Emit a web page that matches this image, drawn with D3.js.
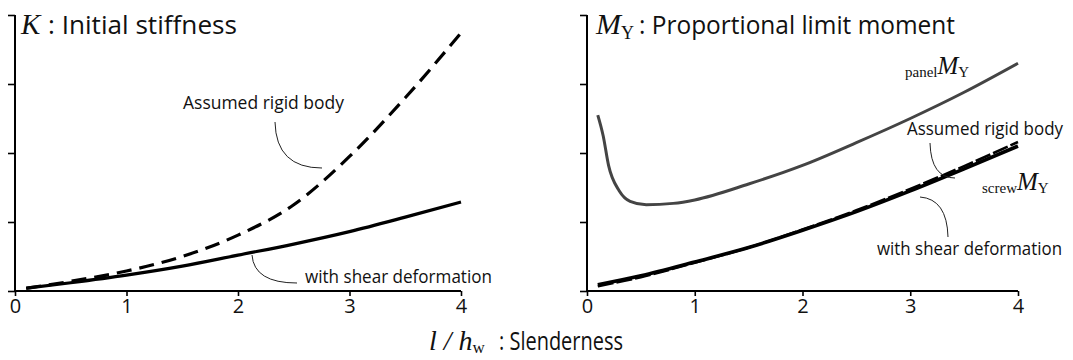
<!DOCTYPE html>
<html>
<head>
<meta charset="utf-8">
<script src="https://cdn.jsdelivr.net/npm/d3@7"></script>
<style>
  body { margin: 0; background: #fff; }
  text { font-family: "Open Sans", "Noto Sans", sans-serif; }
  .serif { font-family: "Liberation Serif", "DejaVu Serif", serif; }
</style>
</head>
<body>
<svg id="svg"></svg>
<script>
// slenderness l / hw
const xTicks = [0, 1, 2, 3, 4];
const yTicks = [0, 1, 2, 3, 4];

// K : initial stiffness (relative units)
const kRigidX = [0.1, 0.5, 1, 1.5, 2, 2.5, 3, 3.5, 4];
const kRigidY = [0.04, 0.14, 0.29, 0.5, 0.81, 1.25, 1.95, 2.8, 3.74];
const kShearX = [0.1, 0.5, 1, 1.5, 2, 2.5, 3, 3.5, 4];
const kShearY = [0.04, 0.12, 0.23, 0.36, 0.52, 0.68, 0.86, 1.07, 1.29];

// MY : proportional limit moment (relative units)
const panelX = [0.1, 0.15, 0.2, 0.3, 0.4, 0.55, 0.8, 1, 1.5, 2, 2.5, 3, 3.5, 4];
const panelY = [2.55, 2.25, 1.82, 1.45, 1.3, 1.25, 1.27, 1.32, 1.55, 1.82, 2.15, 2.5, 2.88, 3.3];
const screwRigidX = [0.1, 0.5, 1, 1.5, 2, 2.5, 3, 3.5, 4];
const screwRigidY = [0.07, 0.2, 0.41, 0.63, 0.89, 1.17, 1.48, 1.81, 2.16];
const screwShearX = [0.1, 0.5, 1, 1.5, 2, 2.5, 3, 3.5, 4];
const screwShearY = [0.09, 0.22, 0.42, 0.63, 0.88, 1.15, 1.45, 1.77, 2.1];

const zip = (xs, ys) => xs.map((x, i) => [x, ys[i]]);

let layout = {"width": 1073, "height": 360, "top": 15, "bottom": 291};

let svgElement = d3.select("#svg")
  .attr("width", layout.width)
  .attr("height", layout.height);

function panel(x0, x1) {
  let g = svgElement.append("g");
  let xScale = d3.scaleLinear().domain([0, 4]).range([x0, x1]);
  let yScale = d3.scaleLinear().domain([0, 4]).range([layout.bottom, layout.top]);

  let yAxis = g.append("g")
    .attr("transform", `translate(${x0}, 0)`)
    .call(d3.axisLeft(yScale).tickValues(yTicks).tickSize(7).tickFormat(""));
  let xAxis = g.append("g")
    .attr("transform", `translate(0, ${layout.bottom})`)
    .call(d3.axisBottom(xScale).tickValues(xTicks).tickSize(5).tickPadding(3).tickFormat(d3.format("d")));

  [xAxis, yAxis].forEach(a => {
    a.select(".domain").attr("stroke-width", 2);
    a.selectAll(".tick line").attr("stroke-width", 1.6);
  });
  xAxis.select(".domain").attr("d", `M${x0},0H${x1}`);
  yAxis.select(".domain").attr("d", `M0,${layout.top}V${layout.bottom}`);
  xAxis.selectAll(".tick text")
    .attr("font-size", 20)
    .attr("font-family", "'Open Sans', sans-serif")
    .attr("fill", "#111");
  return {g, xScale, yScale};
}

function curve(p, pts, opts) {
  let line = d3.line()
    .x(d => p.xScale(d[0]))
    .y(d => p.yScale(d[1]))
    .curve(d3.curveMonotoneX);
  p.g.append("path")
    .datum(pts)
    .attr("d", line)
    .attr("fill", "none")
    .attr("stroke", opts.color || "#000")
    .attr("stroke-width", opts.width || 3)
    .attr("stroke-dasharray", opts.dash || null);
}

function leader(d) {
  svgElement.append("path")
    .attr("d", d)
    .attr("fill", "none")
    .attr("stroke", "#222")
    .attr("stroke-width", 1);
}

function label(x, y, str, len) {
  svgElement.append("text")
    .attr("x", x).attr("y", y)
    .attr("font-size", 18)
    .attr("textLength", len)
    .attr("lengthAdjust", "spacingAndGlyphs")
    .attr("fill", "#111")
    .text(str);
}

// sans part of a title, squeezed to the reference width
function titleText(x, y, str, len) {
  svgElement.append("text")
    .attr("x", x).attr("y", y)
    .attr("font-size", 25)
    .attr("textLength", len)
    .attr("lengthAdjust", "spacingAndGlyphs")
    .attr("fill", "#111")
    .text(str);
}

// left: K
let left = panel(15, 461);
curve(left, zip(kShearX, kShearY), {width: 3.2});
curve(left, zip(kRigidX, kRigidY), {width: 3.2, dash: "15,8"});

// right: MY
let right = panel(587, 1018);
curve(right, zip(panelX, panelY), {color: "#444", width: 3});
curve(right, zip(screwShearX, screwShearY), {width: 3.6});
curve(right, zip(screwRigidX, screwRigidY), {width: 2.6, dash: "16,3"});

// titles
svgElement.append("text").attr("class", "serif").attr("x", 21).attr("y", 34)
  .attr("font-style", "italic").attr("font-size", 29).attr("fill", "#111").text("K");
titleText(48, 34, ": Initial stiffness", 189);

let t2 = svgElement.append("text").attr("x", 596).attr("y", 34).attr("class", "serif").attr("fill", "#111");
t2.append("tspan").attr("font-style", "italic").attr("font-size", 30).text("M");
t2.append("tspan").attr("font-size", 18).attr("dy", 5).text("Y");
titleText(639, 34, ": Proportional limit moment", 316);

// x title
let t3 = svgElement.append("text").attr("x", 429).attr("y", 350).attr("class", "serif").attr("fill", "#111");
t3.append("tspan").attr("font-style", "italic").attr("font-size", 28).text("l / h");
t3.append("tspan").attr("font-size", 17).attr("dy", 3).text("w");
titleText(499, 350, ": Slenderness", 124);

// left annotations
label(183, 109, "Assumed rigid body", 161);
leader("M275,122 Q276,168 322,168");
label(305, 283, "with shear deformation", 187);
leader("M252,255 Q254,283 297,283");

// right annotations
let pm = svgElement.append("text").attr("x", 905).attr("y", 77).attr("class", "serif").attr("fill", "#111");
pm.append("tspan").attr("font-size", 15).text("panel");
pm.append("tspan").attr("font-style", "italic").attr("font-size", 25).attr("dy", -3).text("M");
pm.append("tspan").attr("font-size", 15).attr("dy", 3).text("Y");

label(907, 135, "Assumed rigid body", 156);
leader("M930,143 Q931,178 955,178");

let sm = svgElement.append("text").attr("x", 982).attr("y", 193).attr("class", "serif").attr("fill", "#111");
sm.append("tspan").attr("font-size", 15).text("screw");
sm.append("tspan").attr("font-style", "italic").attr("font-size", 25).attr("dy", -3).text("M");
sm.append("tspan").attr("font-size", 15).attr("dy", 3).text("Y");

label(877, 255, "with shear deformation", 185);
leader("M920,197 Q947,199 948,237");
</script>
</body>
</html>
